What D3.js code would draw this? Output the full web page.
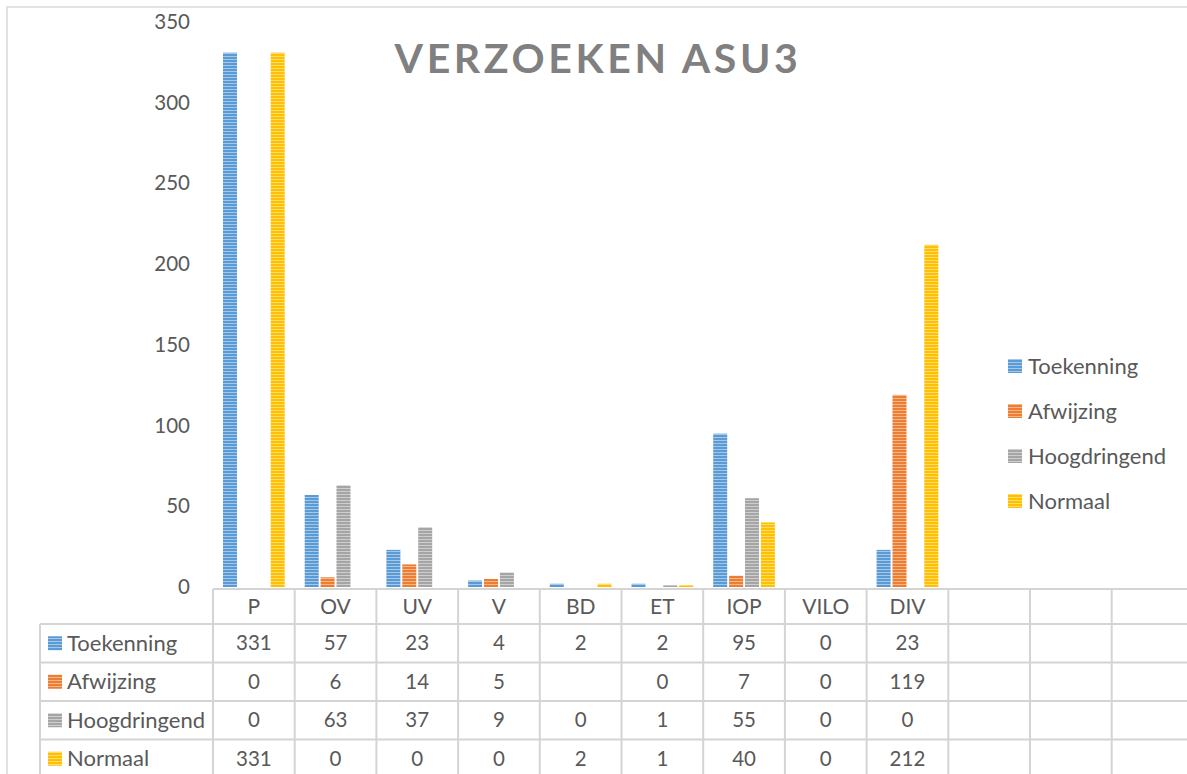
<!DOCTYPE html>
<html>
<head>
<meta charset="utf-8">
<script src="https://cdnjs.cloudflare.com/ajax/libs/d3/7.8.5/d3.min.js"></script>
<style>
  body { margin: 0; background: #fff; }
  svg text { font-family: Lato, "Open Sans", sans-serif; fill: #595959; }
</style>
</head>
<body>
<div id="chart"></div>
<script>
var categories = ["P", "OV", "UV", "V", "BD", "ET", "IOP", "VILO", "DIV", "", "", ""];
var seriesNames = ["Toekenning", "Afwijzing", "Hoogdringend", "Normaal"];
var toekenning   = [331, 57, 23, 4, 2, 2, 95, 0, 23];
var afwijzing    = [0, 6, 14, 5, null, 0, 7, 0, 119];
var hoogdringend = [0, 63, 37, 9, 0, 1, 55, 0, 0];
var normaal      = [331, 0, 0, 0, 2, 1, 40, 0, 212];
var yTicks = [0, 50, 100, 150, 200, 250, 300, 350];
var colors = ["#5B9BD5", "#ED7D31", "#A5A5A5", "#FFC000"];

var seriesValues = [toekenning, afwijzing, hoogdringend, normaal];

var width = 1187, height = 774;
var tableTop = 589, headerH = 35, rowH = 38.5;

var svg = d3.select("#chart").append("svg")
    .attr("width", width)
    .attr("height", height);

// striped fills, like the excel pattern
var defs = svg.append("defs");
colors.forEach(function(c, i) {
    var p = defs.append("pattern")
        .attr("id", "stripe" + i)
        .attr("patternUnits", "userSpaceOnUse")
        .attr("width", 6).attr("height", 3);
    p.append("rect").attr("width", 6).attr("height", 3)
        .attr("fill", d3.interpolateRgb(c, "#ffffff")(0.45));
    p.append("rect").attr("width", 6).attr("height", 2).attr("fill", c);
});

// outer frame
svg.append("rect")
    .attr("x", 7).attr("y", 7)
    .attr("width", width + 20).attr("height", height + 20)
    .attr("fill", "none")
    .attr("stroke", "#d9d9d9")
    .attr("stroke-width", 1.5);

// scales
var x0 = d3.scaleBand()
    .domain(d3.range(categories.length))
    .range([213, 213 + 81.7 * categories.length]);

var x1 = d3.scaleBand()
    .domain(d3.range(seriesNames.length))
    .range([10, x0.bandwidth() - 10])
    .paddingInner(0.12);

var y = d3.scaleLinear()
    .domain([0, 350])
    .range([587, 22]);

// y axis labels only
var yAxis = d3.axisLeft(y).tickValues(yTicks).tickSize(0).tickPadding(0);
var yG = svg.append("g")
    .attr("transform", "translate(190,0)")
    .call(yAxis);
yG.select(".domain").remove();
yG.selectAll("text")
    .attr("font-size", 20.5)
    .style("font-family", "Lato, sans-serif")
    .attr("fill", "#595959");

// title
svg.append("text")
    .attr("x", 598)
    .attr("y", 73)
    .attr("text-anchor", "middle")
    .attr("font-size", 41)
    .attr("font-weight", "bold")
    .attr("letter-spacing", 3.6)
    .style("fill", "#808080")
    .text("VERZOEKEN ASU3");

// bars
var groups = svg.selectAll("g.cat")
    .data(categories.slice(0, toekenning.length))
    .enter()
    .append("g")
    .attr("class", "cat")
    .attr("transform", function(d, i) { return "translate(" + x0(i) + ",0)"; });

groups.selectAll("rect")
    .data(function(d, i) {
        return seriesValues.map(function(vals, s) { return { s: s, v: vals[i] }; });
    })
    .enter()
    .append("rect")
    .filter(function(d) { return d.v != null && d.v > 0; })
    .attr("x", function(d) { return x1(d.s); })
    .attr("width", x1.bandwidth())
    .attr("y", function(d) { return y(d.v); })
    .attr("height", function(d) { return y(0) - y(d.v); })
    .attr("fill", function(d) { return "url(#stripe" + d.s + ")"; });

// data table
var tableG = svg.append("g");
var lineColor = "#d4d4d4";
var rightEdge = width + 10;

// horizontal lines
tableG.append("line")
    .attr("x1", 213).attr("x2", rightEdge)
    .attr("y1", tableTop).attr("y2", tableTop);
for (var r = 0; r <= seriesNames.length; r++) {
    var ly = tableTop + headerH + r * rowH;
    tableG.append("line")
        .attr("x1", 40).attr("x2", rightEdge)
        .attr("y1", ly).attr("y2", ly);
}
// vertical lines
tableG.append("line")
    .attr("x1", 40).attr("x2", 40)
    .attr("y1", tableTop + headerH).attr("y2", height + 10);
d3.range(categories.length + 1).forEach(function(i) {
    var lx = i < categories.length ? x0(i) : x0(i - 1) + x0.bandwidth();
    tableG.append("line")
        .attr("x1", lx).attr("x2", lx)
        .attr("y1", tableTop).attr("y2", height + 10);
});
tableG.selectAll("line")
    .attr("stroke", lineColor)
    .attr("stroke-width", 2);

// header labels
tableG.selectAll("text.cat")
    .data(categories)
    .enter()
    .append("text")
    .attr("class", "cat")
    .attr("x", function(d, i) { return x0(i) + x0.bandwidth() / 2; })
    .attr("y", tableTop + headerH / 2)
    .attr("dy", "0.35em")
    .attr("text-anchor", "middle")
    .attr("font-size", 21)
    .text(function(d) { return d; });

// rows
seriesNames.forEach(function(name, s) {
    var cy = tableTop + headerH + s * rowH + rowH / 2;
    tableG.append("rect")
        .attr("x", 48).attr("y", cy - 7)
        .attr("width", 14).attr("height", 14)
        .attr("fill", "url(#stripe" + s + ")");
    tableG.append("text")
        .attr("x", 67).attr("y", cy)
        .attr("dy", "0.35em")
        .attr("font-size", 22)
        .text(name);
    seriesValues[s].forEach(function(v, i) {
        if (v == null) return;
        tableG.append("text")
            .attr("x", x0(i) + x0.bandwidth() / 2)
            .attr("y", cy)
            .attr("dy", "0.35em")
            .attr("text-anchor", "middle")
            .attr("font-size", 20.5)
            .text(v);
    });
});

// legend
var legend = svg.append("g")
    .attr("transform", "translate(1008,366)");
seriesNames.forEach(function(name, s) {
    var lg = legend.append("g").attr("transform", "translate(0," + s * 45 + ")");
    lg.append("rect")
        .attr("x", 0).attr("y", -7)
        .attr("width", 14).attr("height", 14)
        .attr("fill", "url(#stripe" + s + ")");
    lg.append("text")
        .attr("x", 20).attr("y", 0)
        .attr("dy", "0.35em")
        .attr("font-size", 22)
        .text(name);
});
</script>
</body>
</html>
